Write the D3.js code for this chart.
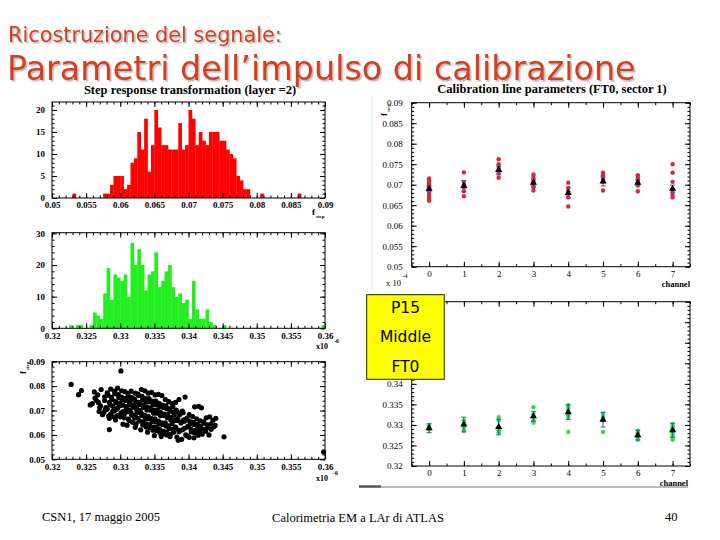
<!DOCTYPE html>
<html><head><meta charset="utf-8">
<script src="https://cdn.jsdelivr.net/npm/d3@7"></script>
<style>body{margin:0;background:#fff}svg{display:block}</style>
</head><body>
<svg id="c" width="720" height="540"></svg>
<script>
// ---------- DATA ----------
const binStartRed = 0.05, binStartGreen = 0.32, binWidth = 0.0005;
const redCounts = [0,0,0,0,0,0,1,0,0,0, 0,0,0,0,0,1,1,3,5,5, 5,2,3,8,9,15,11,18,6,12,
  20,16,12,12,11,11,11,17,11,12, 20,18,12,15,13,12,15,15,15,13, 13,11,10,9,5,4,2,2,0,0,
  0,1,0,0,0,0,0,0,0,0, 0,0,1,0,0,0,0,0,0,0];
const greenCounts = [0,0,0,0,0,1,0,1,1,0, 0,1,5,4,3,11,19,9,17,16, 15,17,10,27,20,25,20,12,17,18,
  24,13,15,18,20,13,10,11,8,9, 3,15,6,3,3,6,2,1,0,0, 1,0,0,0,0,0,0,0,0,0,
  0,0,0,0,0,0,0,0,0,0, 0,0,0,0,0,0,0,0,0,1];
const redYTicks = [0,5,10,15,20];
const greenYTicks = [0,10,20,30];
const histXTicksRed = [0.05,0.055,0.06,0.065,0.07,0.075,0.08,0.085,0.09];
const histXTicksGreen = [0.32,0.325,0.33,0.335,0.34,0.345,0.35,0.355,0.36];
const scatterYTicks = [0.05,0.06,0.07,0.08,0.09];

const scatter = [
[0.3228,0.0807],[0.3239,0.0765],[0.3243,0.0782],
[0.3256,0.0723],[0.3259,0.0728],[0.3262,0.0776],[0.3263,0.0751],[0.3265,0.0741],[0.3267,0.0764],[0.3268,0.0733],[0.3269,0.0696],[0.3270,0.0712],
[0.3272,0.0786],[0.3277,0.0756],[0.3271,0.0719],[0.3278,0.0703],[0.3274,0.0683],
[0.3281,0.0772],[0.3277,0.0741],[0.3284,0.0733],[0.3279,0.0712],[0.3276,0.0692],[0.3283,0.0677],
[0.3286,0.0788],[0.3282,0.0763],[0.3288,0.0745],[0.3285,0.0724],[0.3281,0.0706],[0.3289,0.0697],[0.3284,0.0668],[0.3284,0.0622],
[0.3292,0.0779],[0.3287,0.0754],[0.3293,0.0736],[0.3289,0.0717],[0.3294,0.0704],[0.3286,0.0685],[0.3291,0.0673],
[0.3296,0.0792],[0.3292,0.0769],[0.3298,0.0752],[0.3294,0.0731],[0.3299,0.0719],[0.3291,0.0698],[0.3296,0.0679],[0.3293,0.0661],
[0.3302,0.0781],[0.3297,0.0765],[0.3303,0.0743],[0.3299,0.0728],[0.3296,0.0709],[0.3304,0.0696],[0.3300,0.0674],
[0.3301,0.0862],
[0.3307,0.0777],[0.3302,0.0755],[0.3308,0.0741],[0.3304,0.0722],[0.3309,0.0708],[0.3301,0.0689],[0.3306,0.0670],[0.3304,0.0644],
[0.3311,0.0769],[0.3307,0.0749],[0.3313,0.0736],[0.3309,0.0716],[0.3314,0.0702],[0.3306,0.0686],[0.3312,0.0665],[0.3310,0.0640],
[0.3316,0.0779],[0.3312,0.0758],[0.3318,0.0746],[0.3314,0.0725],[0.3319,0.0713],[0.3311,0.0695],[0.3317,0.0681],[0.3313,0.0659],
[0.3322,0.0771],[0.3317,0.0753],[0.3323,0.0735],[0.3319,0.0723],[0.3324,0.0703],[0.3316,0.0690],[0.3321,0.0670],[0.3318,0.0652],[0.3322,0.0631],
[0.3326,0.0767],[0.3321,0.0747],[0.3327,0.0733],[0.3324,0.0714],[0.3329,0.0701],[0.3322,0.0682],[0.3326,0.0668],[0.3323,0.0645],
[0.3331,0.0786],[0.3327,0.0761],[0.3333,0.0745],[0.3329,0.0725],[0.3334,0.0713],[0.3326,0.0692],[0.3332,0.0679],[0.3328,0.0657],[0.3333,0.0641],[0.3330,0.0621],
[0.3336,0.0781],[0.3332,0.0758],[0.3338,0.0737],[0.3334,0.0723],[0.3339,0.0702],[0.3331,0.0688],[0.3337,0.0667],[0.3333,0.0653],[0.3338,0.0632],
[0.3341,0.0771],[0.3337,0.0749],[0.3343,0.0736],[0.3339,0.0715],[0.3344,0.0701],[0.3336,0.0680],[0.3342,0.0666],[0.3338,0.0645],[0.3343,0.0630],[0.3340,0.0611],
[0.3346,0.0774],[0.3342,0.0749],[0.3348,0.0725],[0.3344,0.0711],[0.3349,0.0689],[0.3341,0.0676],[0.3347,0.0655],[0.3343,0.0641],[0.3348,0.0619],
[0.3351,0.0764],[0.3347,0.0739],[0.3353,0.0723],[0.3349,0.0702],[0.3354,0.0689],[0.3346,0.0667],[0.3352,0.0653],[0.3348,0.0632],[0.3353,0.0618],[0.3350,0.0597],
[0.3356,0.0766],[0.3352,0.0739],[0.3358,0.0715],[0.3354,0.0701],[0.3359,0.0679],[0.3351,0.0666],[0.3357,0.0645],[0.3353,0.0631],[0.3358,0.0609],
[0.3361,0.0761],[0.3357,0.0729],[0.3363,0.0713],[0.3359,0.0692],[0.3364,0.0679],[0.3356,0.0657],[0.3362,0.0643],[0.3358,0.0622],[0.3363,0.0606],[0.3360,0.0593],
[0.3366,0.0745],[0.3362,0.0722],[0.3368,0.0707],[0.3364,0.0685],[0.3369,0.0671],[0.3361,0.0649],[0.3367,0.0636],[0.3363,0.0615],[0.3368,0.0600],
[0.3371,0.0736],[0.3367,0.0719],[0.3373,0.0697],[0.3369,0.0683],[0.3374,0.0662],[0.3366,0.0649],[0.3372,0.0627],[0.3368,0.0613],[0.3373,0.0593],
[0.3376,0.0728],[0.3372,0.0707],[0.3378,0.0693],[0.3374,0.0672],[0.3379,0.0659],[0.3371,0.0637],[0.3377,0.0623],[0.3373,0.0602],
[0.3381,0.0733],[0.3377,0.0716],[0.3383,0.0695],[0.3379,0.0681],[0.3384,0.0659],[0.3376,0.0646],[0.3382,0.0625],[0.3378,0.0611],[0.3383,0.0591],
[0.3386,0.0745],[0.3382,0.0702],[0.3388,0.0689],[0.3384,0.0667],[0.3389,0.0653],[0.3381,0.0632],[0.3387,0.0619],[0.3385,0.0578],
[0.3391,0.0698],[0.3387,0.0683],[0.3393,0.0662],[0.3389,0.0649],[0.3394,0.0627],[0.3386,0.0613],[0.3390,0.0582],
[0.3395,0.0755],[0.3392,0.0691],[0.3398,0.0669],[0.3394,0.0656],[0.3399,0.0635],[0.3391,0.0621],[0.3396,0.0600],
[0.3401,0.0683],[0.3397,0.0666],[0.3403,0.0645],[0.3399,0.0633],[0.3404,0.0612],[0.3398,0.0596],
[0.3406,0.0675],[0.3402,0.0655],[0.3408,0.0643],[0.3404,0.0622],[0.3409,0.0609],[0.3401,0.0590],
[0.3409,0.0715],[0.3412,0.0666],[0.3407,0.0651],[0.3413,0.0632],[0.3410,0.0619],[0.3414,0.0599],[0.3408,0.0588],
[0.3415,0.0717],[0.3417,0.0658],[0.3413,0.0643],[0.3418,0.0625],[0.3416,0.0612],
[0.3419,0.0711],[0.3422,0.0653],[0.3418,0.0635],[0.3423,0.0622],[0.3420,0.0603],
[0.3426,0.0670],[0.3423,0.0648],[0.3428,0.0630],[0.3425,0.0615],
[0.3431,0.0674],[0.3428,0.0641],[0.3433,0.0623],[0.3430,0.0600],
[0.3436,0.0660],[0.3433,0.0645],[0.3437,0.0633],
[0.3440,0.0668],[0.3439,0.0639],[0.3452,0.0592],[0.3598,0.0530]
];

const channels = [0,1,2,3,4,5,6,7];
const fstepVals = [
 [0.0715,0.0709,0.0704,0.0698,0.0694,0.0688,0.0682,0.0676,0.0671,0.0665,0.0661],
 [0.0730,0.0707,0.0700,0.0694,0.0684,0.0672],
 [0.0762,0.0750,0.0744,0.0738,0.0728,0.0717],
 [0.0725,0.0719,0.0712,0.0707,0.0700,0.0694,0.0686],
 [0.0705,0.0692,0.0684,0.0676,0.0669,0.0647],
 [0.0729,0.0723,0.0717,0.0712,0.0707,0.0686],
 [0.0723,0.0717,0.0711,0.0704,0.0698,0.0684],
 [0.0750,0.0729,0.0707,0.0688,0.0682,0.0675,0.0669]
];
const fstepMean = [0.0690,0.0697,0.0736,0.0705,0.0680,0.0708,0.0705,0.0690];
const fstepErr  = [0.0007,0.0013,0.0012,0.0009,0.0012,0.0011,0.0008,0.0009];
const tauVals = [
 [0.3299,0.3294,0.3289],
 [0.3311,0.3305,0.3301,0.3294,0.3286],
 [0.3319,0.3311,0.3294,0.3287,0.3282],
 [0.3343,0.3327,0.3319,0.3311,0.3305],
 [0.3348,0.3342,0.3334,0.3325,0.3319,0.3283],
 [0.3327,0.3319,0.3311,0.3283],
 [0.3286,0.3280,0.3275,0.3270,0.3264],
 [0.3302,0.3297,0.3291,0.3284,0.3278,0.3272,0.3264]
];
const tauMean = [0.3292,0.3301,0.3295,0.3321,0.3331,0.3313,0.3275,0.3287];
const tauErr  = [0.0011,0.0018,0.0019,0.0012,0.0018,0.0018,0.0012,0.0017];
const calYTicksTop = [0.05,0.055,0.06,0.065,0.07,0.075,0.08,0.085,0.09];
const calYTicksBot = [0.32,0.325,0.33,0.335,0.34,0.345,0.35,0.355,0.36];
const calYLabelsBot = ['0.32','0.325','0.33','0.335','0.34','','','','']; // upper labels hidden by the box

// ---------- DRAW ----------
const svg = d3.select('#c');
const defs = svg.append('defs');
defs.append('filter').attr('id','shadow').attr('x','-5%').attr('y','-20%').attr('width','110%').attr('height','140%')
  .append('feDropShadow').attr('dx',1.6).attr('dy',1.6).attr('stdDeviation',0.3).attr('flood-color','#a0a0a0').attr('flood-opacity',0.7);
svg.append('rect').attr('width',720).attr('height',540).attr('fill','#fff');
const fmt = v => String(+v.toFixed(4));
const range = (a,b,s) => d3.range(Math.round((b-a)/s)+1).map(i => +(a+i*s).toFixed(6));

function frameBox(x, y) {
  const [x0,x1]=x.range(), [yb,yt]=y.range();
  const g = svg.append('g');
  g.append('rect').attr('x',x0).attr('y',yt).attr('width',x1-x0).attr('height',yb-yt)
   .attr('fill','#fff').attr('stroke','none');
  return g;
}
function axes(g, x, y, o) {
  const [x0,x1]=x.range(), [yb,yt]=y.range();
  const style = sel => {
    sel.select('.domain').remove();
    sel.selectAll('line').attr('stroke','#000').attr('stroke-width',1);
    sel.selectAll('text').attr('font-family','Liberation Serif, Times New Roman, serif')
      .attr('font-size', o.fs || 9).attr('font-weight', o.bold ? 'bold' : 'normal').attr('fill','#000');
  };
  const add = (axis, tr) => g.append('g').attr('transform',tr).call(axis).call(style);
  add(d3.axisBottom(x).tickValues(o.xMajor).tickSize(-5).tickPadding(4).tickFormat(o.xFmt||fmt), `translate(0,${yb})`);
  add(d3.axisBottom(x).tickValues(o.xMinor).tickSize(-2.5).tickFormat(''), `translate(0,${yb})`);
  add(d3.axisTop(x).tickValues(o.xMajor).tickSize(-5).tickFormat(''), `translate(0,${yt})`);
  add(d3.axisTop(x).tickValues(o.xMinor).tickSize(-2.5).tickFormat(''), `translate(0,${yt})`);
  add(d3.axisLeft(y).tickValues(o.yMajor).tickSize(-5).tickPadding(o.ypad||7).tickFormat(o.yFmt||fmt), `translate(${x0},0)`);
  add(d3.axisLeft(y).tickValues(o.yMinor).tickSize(-2.5).tickFormat(''), `translate(${x0},0)`);
  add(d3.axisRight(y).tickValues(o.yMajor).tickSize(-5).tickFormat(''), `translate(${x1},0)`);
  add(d3.axisRight(y).tickValues(o.yMinor).tickSize(-2.5).tickFormat(''), `translate(${x1},0)`);
  g.append('rect').attr('x',x0).attr('y',yt).attr('width',x1-x0).attr('height',yb-yt)
   .attr('fill','none').attr('stroke','#000').attr('stroke-width',1);
}
const serif = 'Liberation Serif, Times New Roman, serif';
function txt(x,y,s,o={}) {
  const t = svg.append('text').attr('x',x).attr('y',y).text(s)
    .attr('font-family',o.ff||serif).attr('font-size',o.fs||9)
    .attr('font-weight',o.fw||'normal').attr('fill',o.fill||'#000')
    .attr('text-anchor',o.anchor||'start');
  if (o.rot) t.attr('transform',`rotate(${o.rot},${x},${y})`);
  return t;
}
function fstep(x,y,rot) {
  const g = svg.append('g').attr('transform',`translate(${x},${y}) rotate(${rot||0})`);
  g.append('text').attr('x',0).attr('y',0).text('f').attr('font-family',serif).attr('font-size',9).attr('font-weight','bold');
  g.append('text').attr('x',4).attr('y',3).text('step').attr('font-family',serif).attr('font-size',5).attr('font-weight','bold');
}

// Slide titles
const sans = 'DejaVu Sans, Verdana, sans-serif';
txt(8,42,'Ricostruzione del segnale:',{ff:sans,fs:20.8,fill:'#d83c1c'}).attr('filter','url(#shadow)');
txt(7,80,'Parametri dell\u2019impulso di calibrazione',{ff:sans,fs:33.4,fill:'#d83c1c'}).attr('filter','url(#shadow)');

// Panel titles
txt(190,93.5,'Step response transformation (layer =2)',{fs:12.5,fw:'bold',anchor:'middle'});
txt(552,93,'Calibration line parameters (FT0, sector 1)',{fs:12.5,fw:'bold',anchor:'middle'});

// ----- Panel A: red histogram -----
{
  const x = d3.scaleLinear().domain([0.05,0.09]).range([52,325]);
  const y = d3.scaleLinear().domain([0,21.8]).range([198,102]);
  const g = frameBox(x,y);
  g.selectAll('rect.bar').data(redCounts.map((c,i)=>({c,i})).filter(d=>d.c>0)).join('rect')
    .attr('x',d=>x(binStartRed+d.i*binWidth)).attr('width',d=>x(binStartRed+(d.i+1)*binWidth)-x(binStartRed+d.i*binWidth)+0.3)
    .attr('y',d=>y(d.c)).attr('height',d=>y(0)-y(d.c)).attr('fill','#ff0000');
  axes(g,x,y,{xMajor:histXTicksRed,xMinor:range(0.05,0.09,0.001),yMajor:redYTicks,yMinor:range(0,21,1),bold:true,yFmt:d3.format('d')});
  fstep(312,215,0);
}
// ----- Panel B: green histogram -----
{
  const x = d3.scaleLinear().domain([0.32,0.36]).range([52,325]);
  const y = d3.scaleLinear().domain([0,30.2]).range([328.3,232.7]);
  const g = frameBox(x,y);
  g.selectAll('rect.bar').data(greenCounts.map((c,i)=>({c,i})).filter(d=>d.c>0)).join('rect')
    .attr('x',d=>x(binStartGreen+d.i*binWidth)).attr('width',d=>x(binStartGreen+(d.i+1)*binWidth)-x(binStartGreen+d.i*binWidth)+0.3)
    .attr('y',d=>y(d.c)).attr('height',d=>y(0)-y(d.c)).attr('fill','#22ee22');
  axes(g,x,y,{xMajor:histXTicksGreen,xMinor:range(0.32,0.36,0.001),yMajor:greenYTicks,yMinor:range(0,30,2),bold:true,yFmt:d3.format('d')});
  txt(316,349,'x10',{fs:8,fw:'bold'}); txt(334,343,'-6',{fs:6,fw:'bold'});
}
// ----- Panel C: scatter -----
{
  const x = d3.scaleLinear().domain([0.32,0.36]).range([52,325]);
  const y = d3.scaleLinear().domain([0.05,0.09]).range([459.3,361.7]);
  const g = frameBox(x,y);
  g.selectAll('circle').data(scatter).join('circle')
    .attr('cx',d=>x(d[0])).attr('cy',d=>y(d[1])).attr('r',2.6).attr('fill','#000');
  axes(g,x,y,{xMajor:histXTicksGreen,xMinor:range(0.32,0.36,0.001),yMajor:scatterYTicks,yMinor:range(0.05,0.09,0.002),bold:true,yFmt:d3.format('.2f')});
  fstep(26,374,-90);
  txt(316,481,'x10',{fs:8,fw:'bold'}); txt(333,475,'-6',{fs:6,fw:'bold'});
}

// faint image border
svg.append('line').attr('x1',372).attr('x2',372).attr('y1',96).attr('y2',290).attr('stroke','#e4e4e4');

function calPanel(vals, mean, err, yDomain, yRange, yTicks, yLabels, dotColor, errColor) {
  const x = d3.scaleLinear().domain([-0.5,7.5]).range([411.7,690]);
  const y = d3.scaleLinear().domain(yDomain).range(yRange);
  const g = frameBox(x,y);
  const pts = vals.flatMap((arr,i)=>arr.map(v=>({c:channels[i],v})));
  g.selectAll('circle').data(pts).join('circle')
    .attr('cx',d=>x(d.c)).attr('cy',d=>y(d.v)).attr('r',2.2).attr('fill',dotColor);
  const eg = g.append('g').attr('stroke',errColor).attr('stroke-width',1);
  channels.forEach((c,i)=>{
    const cx=x(c);
    eg.append('line').attr('x1',cx).attr('x2',cx).attr('y1',y(mean[i]-err[i])).attr('y2',y(mean[i]+err[i]));
    [mean[i]-err[i],mean[i]+err[i]].forEach(v=>eg.append('line').attr('x1',cx-2.5).attr('x2',cx+2.5).attr('y1',y(v)).attr('y2',y(v)));
  });
  g.selectAll('path.tri').data(channels).join('path')
    .attr('transform',(c,i)=>`translate(${x(c)},${y(mean[i])})`)
    .attr('d',d3.symbol(d3.symbolTriangle).size(22)).attr('fill','#000');
  const yFmt = yLabels ? (v => yLabels[yTicks.indexOf(v)]) : fmt;
  axes(g,x,y,{xMajor:channels,xMinor:range(-0.5,7.5,0.5),yMajor:yTicks,yMinor:range(yDomain[0],yDomain[1],0.001),bold:false,xFmt:d3.format('d'),yFmt,ypad:9,fs:9});
  return {x,y};
}
// ----- Panel D -----
calPanel(fstepVals,fstepMean,fstepErr,[0.05,0.09],[266.7,102.7],calYTicksTop,null,'#d42a3a','#6a4ab0');
svg.append('g').attr('transform','translate(387,116) rotate(-90)').call(g=>{
  g.append('text').text('f').attr('font-family',serif).attr('font-size',9).attr('font-weight','bold');
  g.append('text').attr('x',4).attr('y',3).text('step').attr('font-family',serif).attr('font-size',5);
});
txt(690,287,'channel',{fs:8.5,fw:'bold',anchor:'end'});
txt(386,286,'x 10',{fs:8.5}); txt(402,278,'-4',{fs:6.5});

// ----- Panel E -----
calPanel(tauVals,tauMean,tauErr,[0.32,0.36],[466,301.7],calYTicksBot,calYLabelsBot,'#33dd44','#1f6aa0');
svg.append('line').attr('x1',381).attr('x2',688).attr('y1',487).attr('y2',487).attr('stroke','#777').attr('stroke-width',1);
svg.append('line').attr('x1',359).attr('x2',381).attr('y1',486.5).attr('y2',486.5).attr('stroke','#555').attr('stroke-width',2.5);
txt(688,486,'channel',{fs:8.5,fw:'bold',anchor:'end'});

// Yellow label box
svg.append('rect').attr('x',366.7).attr('y',294.7).attr('width',77.6).attr('height',84.6)
  .attr('fill','#ffff00').attr('stroke','#222').attr('stroke-width',1);
[['P15',312.5],['Middle',342],['FT0',372]].forEach(([s,yy]) =>
  txt(405.5,yy,s,{ff:'DejaVu Sans, Verdana, sans-serif',fs:15.5,anchor:'middle'}));

// Footer
txt(42,521,'CSN1, 17 maggio 2005',{fs:12.5});
txt(358,522,'Calorimetria EM a LAr di ATLAS',{fs:12.5,anchor:'middle'});
txt(665,521,'40',{fs:12.5});
</script>
</body></html>
